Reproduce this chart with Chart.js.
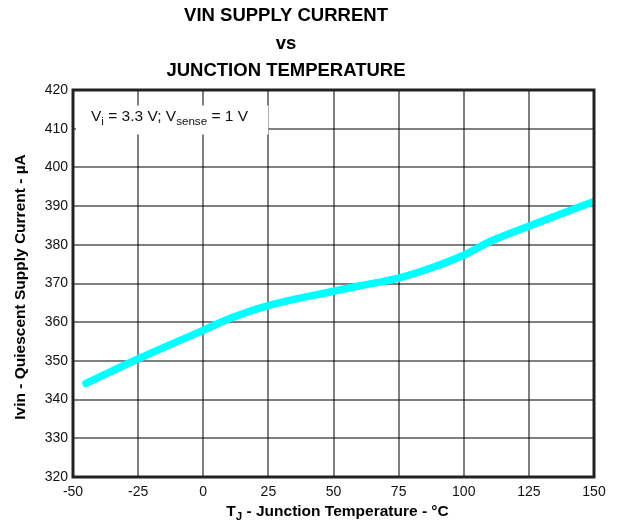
<!DOCTYPE html>
<html>
<head>
<meta charset="utf-8">
<script src="https://cdn.jsdelivr.net/npm/chart.js@4/dist/chart.umd.min.js"></script>
<style>
  html, body { margin: 0; padding: 0; background: #fff; }
  #wrap { width: 618px; height: 525px; }
</style>
</head>
<body>
<div id="wrap"><canvas id="chart" width="618" height="525"></canvas></div>
<script>
// junction temperature (deg C) and quiescent current (uA)
const temps = [-45, -25, 0, 10, 25, 50, 62.5, 75, 87.5, 100, 110, 125, 150]
const currents = [344.2, 350.5, 357.9, 360.9, 364.3, 368, 369.7, 371.4, 374, 377.3, 380.8, 384.8, 391.2]

const xTicks = [-50, -25, 0, 25, 50, 75, 100, 125, 150]
const yTicks = [320, 330, 340, 350, 360, 370, 380, 390, 400, 410, 420]

const titleLines = ['VIN SUPPLY CURRENT', 'vs', 'JUNCTION TEMPERATURE']

const FONT = 'Liberation Sans, Arial, sans-serif'

// text with a subscript piece: parts = [[text, isSub], ...]
function drawRich(ctx, parts, x, y, size, bold, align){
    let w = 0
    const subSize = size * 0.75
    for(let p of parts){
        ctx.font = (bold ? 'bold ' : '') + (p[1] ? subSize : size) + 'px ' + FONT
        w += ctx.measureText(p[0]).width
    }
    let cx = align == 'center' ? x - w / 2 : x
    ctx.textAlign = 'left'
    ctx.textBaseline = 'middle'
    for(let p of parts){
        ctx.font = (bold ? 'bold ' : '') + (p[1] ? subSize : size) + 'px ' + FONT
        ctx.fillText(p[0], cx, p[1] ? y + size * 0.3 : y)
        cx += ctx.measureText(p[0]).width
    }
}

const decor = {
    id: 'decor',
    beforeDatasetsDraw(chart){
        // white box behind the condition note
        const ctx = chart.ctx
        const xs = chart.scales.x
        const ys = chart.scales.y
        ctx.save()
        ctx.fillStyle = '#fff'
        ctx.fillRect(xs.left + 3, ys.getPixelForValue(416), xs.getPixelForValue(25) - xs.left - 3, ys.getPixelForValue(408.5) - ys.getPixelForValue(416))
        ctx.fillStyle = '#111'
        drawRich(ctx, [['V', false], ['i', true], [' = 3.3 V; V', false], ['sense', true], [' = 1 V', false]], xs.left + 18, ys.getPixelForValue(413), 15.5, false, 'left')
        ctx.restore()
    },
    afterDraw(chart){
        const ctx = chart.ctx
        const a = chart.chartArea
        ctx.save()
        // plot frame
        ctx.strokeStyle = '#222'
        ctx.lineWidth = 3
        ctx.strokeRect(a.left, a.top, a.right - a.left, a.bottom - a.top)
        // title
        ctx.fillStyle = '#000'
        ctx.textAlign = 'center'
        ctx.textBaseline = 'middle'
        ctx.font = 'bold 18.5px ' + FONT
        titleLines.forEach((t, i) => ctx.fillText(t, 286, 16 + i * 27.5))
        // x axis title
        drawRich(ctx, [['T', false], ['J', true], [' - Junction Temperature - \u00b0C', false]], (a.left + a.right) / 2 + 4, 512, 15.5, true, 'center')
        // y axis title
        ctx.translate(21, 287)
        ctx.rotate(-Math.PI / 2)
        ctx.font = 'bold 15.5px ' + FONT
        ctx.textAlign = 'center'
        ctx.fillText('Ivin - Quiescent Supply Current - \u00b5A', 0, 0)
        ctx.restore()
    }
}

new Chart(document.getElementById('chart'), {
    type: 'line',
    data: {
        datasets: [{
            data: temps.map((t, i) => ({x: t, y: currents[i]})),
            borderColor: '#00ffff',
            borderWidth: 7.5,
            borderCapStyle: 'round',
            pointRadius: 0,
            tension: 0.4,
            fill: false
        }]
    },
    options: {
        responsive: false,
        animation: false,
        layout: {padding: {top: 90, right: 24, left: 0, bottom: 0}},
        plugins: {legend: {display: false}, tooltip: {enabled: false}, title: {display: false}},
        scales: {
            x: {
                type: 'linear',
                min: -50, max: 150,
                afterBuildTicks: (s) => { s.ticks = xTicks.map(v => ({value: v})) },
                afterFit: (s) => { s.height = 48 },
                grid: {color: 'rgba(0,0,0,0.5)', lineWidth: 2, drawTicks: false},
                border: {display: false},
                ticks: {color: '#111', font: {family: FONT, size: 14}, padding: 7, maxRotation: 0}
            },
            y: {
                min: 320, max: 420,
                afterBuildTicks: (s) => { s.ticks = yTicks.map(v => ({value: v})) },
                afterFit: (s) => { s.width = 73 },
                grid: {color: 'rgba(0,0,0,0.5)', lineWidth: 2, drawTicks: false},
                border: {display: false},
                ticks: {color: '#111', font: {family: FONT, size: 14}, padding: 5}
            }
        }
    },
    plugins: [decor]
})
</script>
</body>
</html>
